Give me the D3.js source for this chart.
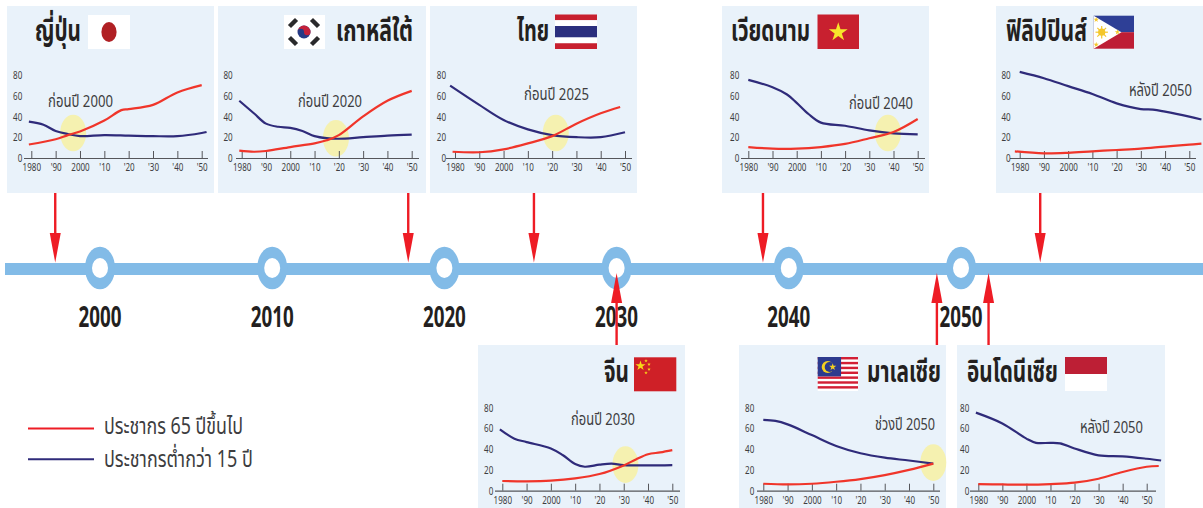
<!DOCTYPE html>
<html lang="th">
<head>
<meta charset="utf-8">
<title>สังคมผู้สูงอายุในเอเชีย</title>
<script src="https://cdn.jsdelivr.net/npm/d3@7/dist/d3.min.js"></script>
<style>
  html, body { margin: 0; padding: 0; background: #fff; }
  svg { display: block; }
  text { font-family: "Liberation Sans Narrow", "Noto Sans Thai", "Noto Sans", "Liberation Sans", sans-serif; }
</style>
</head>
<body>
<svg id="chart" width="1203" height="508"></svg>
<script>
// Share of population, by year: 65 and over, and under 15.
const japanSenior = [[1979,13],[1990,18],[1995,22],[2000,25.5],[2010,36],[2017,46],[2020,47],[2030,51],[2040,63],[2050,70]];
const japanYouth = [[1979,35],[1985,32],[1990,26],[1995,23],[2000,21],[2010,22],[2020,21.5],[2030,21],[2040,21],[2050,24],[2052,25]];
const koreaSenior = [[1979,7],[1985,6],[1990,6.7],[2000,10.5],[2010,14],[2015,17],[2020,22],[2030,40],[2040,55],[2050,64.5]];
const koreaYouth = [[1979,55],[1985,43],[1990,33],[1995,30],[2000,29],[2005,26],[2010,21],[2015,19],[2020,18.5],[2030,20],[2040,21.5],[2050,22.5]];
const thaiSenior = [[1979,6],[1990,5.5],[2000,8.3],[2010,14],[2020,21],[2030,33],[2040,43],[2048,49]];
const thaiYouth = [[1978,69.5],[1990,51],[2000,36.5],[2010,27.5],[2020,22],[2030,20],[2040,20],[2050,24.7]];
const vietnamSenior = [[1980,10.5],[1990,9],[2000,9],[2010,10.5],[2020,13.5],[2030,19],[2040,25],[2050,37.5]];
const vietnamYouth = [[1980,75],[1990,68],[1996,61],[2000,53],[2005,42],[2010,34],[2020,31],[2030,26.6],[2040,23.7],[2050,22.7]];
const philippinesSenior = [[1978,6.4],[1990,4.5],[2000,5],[2010,6.4],[2020,7.7],[2030,9],[2040,11],[2050,12.8],[2055,13.8]];
const philippinesYouth = [[1980,82.7],[1990,76.6],[2000,69],[2010,61.5],[2020,52.5],[2030,47],[2035,46.5],[2040,44.5],[2050,39.7],[2055,37]];
const chinaSenior = [[1980,9.3],[1990,9],[2000,9.6],[2010,11.8],[2020,16],[2030,24.3],[2035,30],[2040,35],[2045,36.8],[2050,39]];
const chinaYouth = [[1979,59],[1985,50],[1990,46.7],[2000,40.6],[2005,34],[2010,25.6],[2014,23],[2020,25],[2025,26],[2030,24.6],[2040,24.3],[2050,24.6]];
const malaysiaSenior = [[1980,6.7],[1990,6],[2000,6.7],[2010,8.6],[2020,11.2],[2030,15],[2040,20],[2050,26]];
const malaysiaYouth = [[1980,68],[1985,67],[1990,63.7],[2000,53.4],[2010,43],[2020,36],[2030,31.7],[2040,29],[2050,26]];
const indonesiaSenior = [[1980,6.4],[1990,6],[2000,5.8],[2010,6.4],[2020,7.7],[2030,11.5],[2040,18],[2050,23],[2055,23.7]];
const indonesiaYouth = [[1979,75],[1990,64.6],[2000,50],[2004,46],[2010,46],[2014,45.5],[2020,40.6],[2030,34],[2040,33],[2050,30.7],[2056,29]];

const countryNames = ["ญี่ปุ่น", "เกาหลีใต้", "ไทย", "เวียดนาม", "ฟิลิปปินส์", "จีน", "มาเลเซีย", "อินโดนีเซีย"];
const crossingNotes = ["ก่อนปี 2000", "ก่อนปี 2020", "ก่อนปี 2025", "ก่อนปี 2040", "หลังปี 2050", "ก่อนปี 2030", "ช่วงปี 2050", "หลังปี 2050"];
const crossingYears = [1997.2, 2018.8, 2021.5, 2037.7, null, 2030.7, 2050, null];
const crossingValues = [24, 19, 24, 24, null, 25, 27, null];
const timelineArrowYears = [1997.4, 2017.9, 2025.2, 2038.5, 2054.6, 2030, 2048.6, 2051.6];
const seniorSeries = [japanSenior, koreaSenior, thaiSenior, vietnamSenior, philippinesSenior, chinaSenior, malaysiaSenior, indonesiaSenior];
const youthSeries = [japanYouth, koreaYouth, thaiYouth, vietnamYouth, philippinesYouth, chinaYouth, malaysiaYouth, indonesiaYouth];

const decadeTicks = [1980, 1990, 2000, 2010, 2020, 2030, 2040, 2050];
const decadeLabels = ["1980", "'90", "2000", "'10", "'20", "'30", "'40", "'50"];
const valueTicks = [0, 20, 40, 60, 80];
const timelineYears = [2000, 2010, 2020, 2030, 2040, 2050];
const legendLabels = ["ประชากร 65 ปีขึ้นไป", "ประชากรต่ำกว่า 15 ปี"];

// Panel layout, in the same order as countryNames.
const layout = [
  { box: [7, 6, 207, 187],    x: [31.3, 201.7], axis: [24, 208],    y0: 158, title: [35, 81, 41],      note: [48, 113, 106.5],   flag: [88, 15, 42, 34],     flagKind: "japan",  down: true },
  { box: [218, 6, 208, 187],  x: [241.7, 411.7], axis: [236, 419],  y0: 158, title: [336, 413, 41],    note: [298, 362, 107],    flag: [284, 15, 41, 34],    flagKind: "korea",  down: true },
  { box: [430, 6, 207, 187],  x: [455, 625],    axis: [446, 632],   y0: 158, title: [517, 549, 41],    note: [524, 589, 100],    flag: [555, 14.5, 42, 34.5], flagKind: "thai",  down: true },
  { box: [722, 6, 207, 187],  x: [748.3, 917.7], axis: [741, 925],  y0: 158, title: [731, 810, 41],    note: [849, 913, 108.5],  flag: [817.5, 14.5, 41.5, 34.5], flagKind: "vietnam", down: true },
  { box: [996, 6, 207, 187],  x: [1019.7, 1189.3], axis: [1010, 1196], y0: 158, title: [1006, 1087, 41], note: [1129, 1192, 96], flag: [1093.7, 15.7, 40.3, 33], flagKind: "philippines", down: true },
  { box: [478, 345, 207, 163], x: [502.3, 672.3], axis: [495, 680], y0: 490.7, title: [604, 629, 382],  note: [571, 635, 425],    flag: [634, 357.3, 42.3, 34], flagKind: "china", down: false },
  { box: [739, 345, 207, 163], x: [763.3, 933.3], axis: [757, 940], y0: 490.7, title: [867, 941, 382],  note: [875, 935, 430],    flag: [817.7, 357, 40.3, 34], flagKind: "malaysia", down: false },
  { box: [957, 345, 208, 163], x: [978.3, 1146.7], axis: [970, 1156], y0: 490.7, title: [967, 1058, 382], note: [1080, 1143, 433], flag: [1065, 357, 42, 34], flagKind: "indonesia", down: false }
];

const ARROW_RED = "#ee1c25";
const LINE_RED = "#f0352a";
const NAVY = "#2f2b7a";
const RAIL = "#82bbe7";
const PANEL = "#e9f2fa";
const INK = "#231f20";
const SOFT_INK = "#3d3d40";
const TICK_SIZE = 11.5;
const TICK_SQUEEZE = 0.7;

const svg = d3.select("#chart");

// Places a text run so that it spans x0..x1, squeezing the glyphs horizontally.
function fitText(parent, text, x0, x1, baseline, size, weight, fill) {
  const node = parent.append("text")
    .attr("font-size", size)
    .attr("font-weight", weight)
    .attr("fill", fill)
    .text(text);
  const measured = node.node().getComputedTextLength();
  node.attr("transform", `translate(${x0},${baseline}) scale(${(x1 - x0) / measured},1)`);
  return node;
}

function star(g, cx, cy, area, fill, rotation) {
  g.append("path")
    .attr("d", d3.symbol(d3.symbolStar, area)())
    .attr("transform", `translate(${cx},${cy}) rotate(${rotation || 0})`)
    .attr("fill", fill);
}

// Each painter draws a flag inside a box of w by h, from the group's origin.
const flagPainters = {
  japan(g, w, h) {
    g.append("rect").attr("width", w).attr("height", h).attr("fill", "#fff");
    g.append("ellipse").attr("cx", w / 2).attr("cy", h / 2).attr("rx", 7.6).attr("ry", 10).attr("fill", "#b02024");
  },
  korea(g, w, h) {
    g.append("rect").attr("width", w).attr("height", h).attr("fill", "#fff");
    const cx = w / 2 - 0.5, cy = h / 2;
    g.append("circle").attr("cx", cx).attr("cy", cy).attr("r", 6.5).attr("fill", "#263a85");
    g.append("path").attr("d", `M${cx - 6.5},${cy} A6.5,6.5 0 0 1 ${cx + 6.5},${cy} A3.25,3.25 0 0 1 ${cx},${cy} A3.25,3.25 0 0 0 ${cx - 6.5},${cy}Z`).attr("fill", "#c4203a");
    [[-11, -9, 45], [11, -9, -45], [-11, 9, -45], [11, 9, 45]].forEach(([dx, dy, angle]) => {
      g.append("rect").attr("x", -2.2).attr("y", -5).attr("width", 4.4).attr("height", 10)
        .attr("fill", "#2a2a2c")
        .attr("transform", `translate(${cx + dx},${cy + dy}) rotate(${angle})`);
    });
  },
  thai(g, w, h) {
    const stripes = [[0, 1 / 6, "#c8202f"], [1 / 6, 1 / 6, "#fff"], [2 / 6, 2 / 6, "#2b2f7e"], [4 / 6, 1 / 6, "#fff"], [5 / 6, 1 / 6, "#c8202f"]];
    stripes.forEach(([y, s, c]) => g.append("rect").attr("y", y * h).attr("width", w).attr("height", s * h).attr("fill", c));
  },
  vietnam(g, w, h) {
    g.append("rect").attr("width", w).attr("height", h).attr("fill", "#c8202f");
    star(g, w / 2, h / 2 + 0.5, 110, "#f7e62b");
  },
  philippines(g, w, h) {
    g.append("rect").attr("width", w).attr("height", h / 2).attr("fill", "#2e3f96");
    g.append("rect").attr("y", h / 2).attr("width", w).attr("height", h / 2).attr("fill", "#be1e35");
    g.append("path").attr("d", `M0,0 L${h * 0.84},${h / 2} L0,${h}Z`).attr("fill", "#fff");
    g.append("circle").attr("cx", 8).attr("cy", h / 2).attr("r", 3.6).attr("fill", "#f4c72c");
    d3.range(8).forEach(i => {
      const a = i * Math.PI / 4;
      g.append("line")
        .attr("x1", 8).attr("y1", h / 2)
        .attr("x2", 8 + 6.2 * Math.cos(a)).attr("y2", h / 2 + 6.2 * Math.sin(a))
        .attr("stroke", "#f4c72c").attr("stroke-width", 1.2);
    });
    star(g, 2.5, 4, 9, "#f4c72c");
    star(g, 2.5, h - 4, 9, "#f4c72c");
    star(g, h * 0.72, h / 2, 9, "#f4c72c");
  },
  china(g, w, h) {
    g.append("rect").attr("width", w).attr("height", h).attr("fill", "#cf2027");
    star(g, 6.5, 8.5, 32, "#f7d917");
    [[12, 3.5], [15, 7], [15, 12], [12, 15.5]].forEach(([x, y]) => star(g, x, y, 4, "#f7d917"));
  },
  malaysia(g, w, h) {
    g.append("rect").attr("width", w).attr("height", h).attr("fill", "#fff");
    d3.range(7).forEach(i => g.append("rect").attr("y", i * h / 14 * 2).attr("width", w).attr("height", h / 14).attr("fill", "#d21f35"));
    g.append("rect").attr("width", w * 0.58).attr("height", h * 0.57).attr("fill", "#2c3a8e");
    g.append("circle").attr("cx", 10).attr("cy", 10).attr("r", 6).attr("fill", "#f5d020");
    g.append("circle").attr("cx", 12).attr("cy", 10).attr("r", 5).attr("fill", "#2c3a8e");
    star(g, 15, 10, 16, "#f5d020");
  },
  indonesia(g, w, h) {
    g.append("rect").attr("width", w).attr("height", h).attr("fill", "#fff");
    g.append("rect").attr("width", w).attr("height", h / 2).attr("fill", "#bd1f35");
  }
};

const timeline = d3.scaleLinear().domain([2000, 2050]).range([100, 961]);

// Horizontal rail with one ring per decade.
svg.append("rect").attr("x", 5).attr("y", 263).attr("width", 1198).attr("height", 12).attr("fill", RAIL);
const rings = svg.append("g").selectAll("g").data(timelineYears).join("g")
  .attr("transform", d => `translate(${timeline(d)},268)`);
rings.append("ellipse").attr("rx", 15).attr("ry", 21.3).attr("fill", RAIL);
rings.append("ellipse").attr("rx", 8).attr("ry", 10).attr("fill", "#fff");
timelineYears.forEach(y => {
  const cx = timeline(y);
  fitText(svg, String(y), cx - 21.5, cx + 21.5, 326.7, 28, 700, INK);
});

// Small multiples, one per country.
countryNames.forEach((name, i) => {
  const p = layout[i];
  const g = svg.append("g");
  g.append("rect").attr("x", p.box[0]).attr("y", p.box[1]).attr("width", p.box[2]).attr("height", p.box[3]).attr("fill", PANEL);

  const x = d3.scaleLinear().domain([1980, 2050]).range(p.x);
  const y = d3.scaleLinear().domain([0, 80]).range([p.y0, p.y0 - 83.3]);

  if (crossingYears[i] !== null) {
    g.append("ellipse")
      .attr("cx", x(crossingYears[i])).attr("cy", y(crossingValues[i]))
      .attr("rx", 13).attr("ry", 18.3).attr("fill", "#f5f1b0");
  }

  const xAxis = d3.axisBottom(x).tickValues(decadeTicks)
    .tickFormat((d, k) => decadeLabels[k])
    .tickSizeInner(-7).tickSizeOuter(0).tickPadding(5);
  const xg = g.append("g").attr("transform", `translate(0,${p.y0})`).call(xAxis);
  xg.select(".domain").remove();
  xg.selectAll(".tick line").attr("stroke", "#55565a").attr("stroke-width", 1);
  xg.selectAll(".tick text").attr("font-size", TICK_SIZE).attr("fill", SOFT_INK).attr("font-family", null)
    .attr("transform", `scale(${TICK_SQUEEZE},1)`);

  g.append("line").attr("x1", p.axis[0]).attr("x2", p.axis[1]).attr("y1", p.y0 + 0.5).attr("y2", p.y0 + 0.5)
    .attr("stroke", "#55565a").attr("stroke-width", 1.2);

  const yAxis = d3.axisLeft(y).tickValues(valueTicks).tickSize(0).tickPadding(0);
  const yg = g.append("g").attr("transform", `translate(${p.x[0] - 9},0)`).call(yAxis);
  yg.select(".domain").remove();
  yg.selectAll(".tick text").attr("font-size", TICK_SIZE).attr("fill", SOFT_INK).attr("font-family", null)
    .attr("transform", `scale(${TICK_SQUEEZE},1)`);

  const line = d3.line().x(d => x(d[0])).y(d => y(d[1])).curve(d3.curveCatmullRom.alpha(0.5));
  g.append("path").datum(youthSeries[i]).attr("d", line).attr("fill", "none").attr("stroke", NAVY).attr("stroke-width", 2.2);
  g.append("path").datum(seniorSeries[i]).attr("d", line).attr("fill", "none").attr("stroke", LINE_RED).attr("stroke-width", 2.2);

  fitText(g, name, p.title[0], p.title[1], p.title[2], 30, 700, INK);
  fitText(g, crossingNotes[i], p.note[0], p.note[1], p.note[2], 17, 400, SOFT_INK);

  const flag = g.append("g").attr("transform", `translate(${p.flag[0]},${p.flag[1]})`);
  flagPainters[p.flagKind](flag, p.flag[2], p.flag[3]);
});

// Arrows tie each panel to its place on the timeline.
countryNames.forEach((_, i) => {
  const p = layout[i];
  const ax = timeline(timelineArrowYears[i]);
  const g = svg.append("g");
  const tip = p.down ? 262.5 : 273;
  const base = p.down ? 233 : 303;
  const start = p.down ? p.box[1] + p.box[3] : p.box[1];
  g.append("line").attr("x1", ax).attr("x2", ax).attr("y1", start).attr("y2", base)
    .attr("stroke", ARROW_RED).attr("stroke-width", 2.4);
  g.append("path").attr("d", `M${ax - 5.5},${base} L${ax + 5.5},${base} L${ax},${tip}Z`).attr("fill", ARROW_RED);
});

// Legend.
[[ARROW_RED, 428.5, 104, 243, 434], [NAVY, 459.3, 104, 253, 466.5]].forEach(([color, ly, x0, x1, baseline], i) => {
  svg.append("line").attr("x1", 28).attr("x2", 94).attr("y1", ly).attr("y2", ly).attr("stroke", color).attr("stroke-width", 2);
  fitText(svg, legendLabels[i], x0, x1, baseline, 23, 400, SOFT_INK);
});
</script>
</body>
</html>
